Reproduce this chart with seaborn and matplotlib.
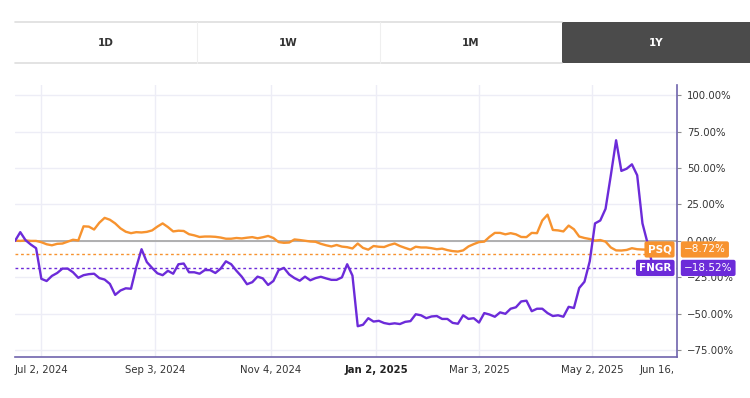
import numpy as np
import pandas as pd
import matplotlib
matplotlib.use("Agg")
import matplotlib.pyplot as plt
import seaborn as sns
from matplotlib.patches import Rectangle
from matplotlib.lines import Line2D
from matplotlib.transforms import Bbox, TransformedBbox

# percent change since start, one value every 2 trading days (from 2024-06-17)
psq = [0.2, 0.0, 0.3, 0.0, 0.0, -0.9, -2.3, -3.0, -2.0, -1.8,
       -0.5, 0.8, 0.3, 10.0, 9.8, 7.8, 12.5, 15.8, 14.5, 12.0,
       8.6, 6.3, 5.3, 6.0, 5.8, 6.2, 7.2, 9.8, 12.0, 9.5,
       6.5, 7.0, 6.8, 4.6, 3.8, 2.7, 3.0, 3.0, 2.8, 2.3,
       1.5, 1.5, 2.0, 1.7, 2.2, 2.6, 1.8, 2.5, 3.4, 2.0,
       -0.8, -1.3, -1.1, 1.0, 0.6, 0.1, -0.4, -0.6, -2.0, -3.0,
       -3.8, -2.8, -3.9, -4.3, -5.2, -1.8, -4.8, -6.0, -3.5, -4.0,
       -4.2, -2.8, -1.8, -3.5, -4.8, -6.0, -4.0, -4.5, -4.5, -5.0,
       -5.7, -5.3, -6.3, -7.0, -7.3, -6.5, -3.8, -2.2, -0.8, -0.5,
       2.8, 5.5, 5.5, 4.5, 5.3, 4.5, 2.7, 2.6, 5.5, 5.3,
       14.0, 18.0, 7.5, 7.2, 6.5, 10.5, 8.0, 3.0, 2.0, 1.3,
       0.2, 0.6, -0.5, -4.5, -6.5, -6.6, -6.2, -5.0, -5.7, -5.9,
       -6.0, -8.72]
fngr = [0.0, 6.0, 0.5, -2.5, -5.0, -26.0, -27.5, -24.0, -22.0, -19.0,
        -19.0, -21.5, -25.3, -23.5, -22.8, -22.5, -25.5, -26.5, -29.5, -37.0,
        -34.0, -32.5, -32.8, -18.0, -5.7, -14.5, -18.5, -22.2, -23.5, -20.5,
        -22.5, -16.0, -15.5, -21.5, -21.5, -22.5, -20.0, -20.0, -22.0, -19.0,
        -14.0, -16.0, -20.5, -24.5, -29.7, -28.3, -24.5, -25.7, -30.2, -27.5,
        -20.0, -18.5, -23.0, -25.5, -27.3, -24.5, -27.0, -25.5, -24.6, -25.7,
        -26.7, -26.7, -25.0, -16.0, -23.8, -58.5, -57.5, -53.0, -55.3, -54.8,
        -56.3, -57.0, -56.5, -57.0, -55.5, -55.0, -50.3, -51.0, -53.0, -51.8,
        -51.5, -53.5, -53.5, -56.2, -56.8, -51.0, -53.5, -53.0, -56.0, -49.5,
        -50.5, -52.0, -49.0, -50.0, -46.5, -45.5, -41.5, -41.0, -48.2, -46.5,
        -46.5, -49.5, -51.5, -51.0, -52.0, -45.2, -46.0, -32.3, -28.0, -14.0,
        12.0, 14.0, 22.0, 45.0, 69.0, 48.0, 49.5, 52.5, 45.0, 12.0,
        -2.0, -18.52]

symbols = ["PSQ", "FNGR"]
colors = {"PSQ": "#f7932f", "FNGR": "#6c2bd9"}

holidays = ["2024-06-19", "2024-07-04", "2024-09-02", "2024-11-28", "2024-12-25",
            "2025-01-01", "2025-01-09", "2025-01-20", "2025-02-17", "2025-04-18",
            "2025-05-26"]
tick_dates = ["2024-07-02", "2024-09-03", "2024-11-04", "2025-01-02",
              "2025-03-03", "2025-05-02", "2025-06-16"]
tick_labels = ["Jul 2, 2024", "Sep 3, 2024", "Nov 4, 2024", "Jan 2, 2025",
               "Mar 3, 2025", "May 2, 2025", "Jun 16, 2025"]
y_ticks = [-75, -50, -25, 0, 25, 50, 75, 100]
buttons = ["1D", "1W", "1M", "1Y"]

sns.set_theme(style="white")
plt.rcParams["font.family"] = ["DejaVu Sans"]

days = pd.bdate_range("2024-06-17", "2025-06-30", freq="C", holidays=holidays)
tick_pos = [days.get_loc(pd.Timestamp(d)) for d in tick_dates]

df = pd.DataFrame({"day": np.arange(len(psq)) * 2, "PSQ": psq, "FNGR": fngr})
long = df.melt("day", var_name="symbol", value_name="pct")

fig = plt.figure(figsize=(7.5, 3.98), dpi=100)
W, H = 750, 398
ax = fig.add_axes([15 / W, 1 - 357 / H, 662 / W, 272 / H])

# period buttons
edges = [15, 197, 380, 562, 750]
for i, b in enumerate(buttons):
    active = b == "1Y"
    x0 = edges[i]
    fig.add_artist(Rectangle((x0 / W, 1 - 63 / H), (edges[i + 1] - x0) / W, 41 / H,
                             transform=fig.transFigure,
                             facecolor="#4b4b4b" if active else "white",
                             edgecolor="none"))
    fig.text((x0 + edges[i + 1]) / 2 / W, 1 - 43 / H, b, ha="center", va="center",
             fontsize=7.5, fontweight="bold",
             color="white" if active else "#333333")
for yy in (22, 63):
    fig.add_artist(Line2D([15 / W, 562 / W], [1 - yy / H] * 2,
                          transform=fig.transFigure, color="#dedede", lw=1.2))
for xx in (197, 380):
    fig.add_artist(Line2D([xx / W] * 2, [1 - 63 / H, 1 - 22 / H],
                          transform=fig.transFigure, color="#efefef", lw=0.8))

# grid
for v in y_ticks:
    ax.axhline(v, color="#ededf6", lw=1, zorder=0)
ax.vlines(tick_pos[:-1], -100, 120, color="#ededf6", lw=1, zorder=0)
ax.axhline(0, color="#aaaaaa", lw=1.3, zorder=1)

sns.lineplot(data=long, x="day", y="pct", hue="symbol", hue_order=symbols,
             palette=colors, lw=1.7, legend=False, ax=ax, zorder=2)

last = {"PSQ": psq[-1], "FNGR": fngr[-1]}
shift = {"PSQ": 3.0, "FNGR": 0.0}
for s in symbols:
    ax.axhline(last[s], color=colors[s], lw=1, ls=(0, (2, 2)), zorder=1.5)
    ax.annotate(s, xy=(1, last[s]), xycoords=("axes fraction", "data"),
                xytext=(-4, shift[s]), textcoords="offset points",
                ha="right", va="center", fontsize=7.5, fontweight="bold",
                color="white", zorder=6, annotation_clip=False,
                bbox=dict(boxstyle="round,pad=0.3,rounding_size=0.2",
                          fc=colors[s], ec="none"))
    ax.annotate(f"{last[s]:.2f}%".replace("-", "\u2212"), xy=(1, last[s]),
                xycoords=("axes fraction", "data"),
                xytext=(5, shift[s]), textcoords="offset points",
                ha="left", va="center", fontsize=7.5,
                color="white", zorder=6, annotation_clip=False,
                bbox=dict(boxstyle="round,pad=0.3,rounding_size=0.2",
                          fc=colors[s], ec="none"))

ax.set_xlim(0, 251.1)
ax.set_ylim(-79.6, 106.9)
ax.set_xlabel("")
ax.set_ylabel("")

ax.yaxis.tick_right()
ax.set_yticks(y_ticks)
ax.set_yticklabels([f"{v:.2f}%".replace("-", "\u2212") for v in y_ticks])
ax.tick_params(axis="y", right=True, length=3, width=0.8, color="#8f8f8f",
               pad=4, labelsize=7.3, labelcolor="#333333")

ax.set_xticks(tick_pos)
ax.set_xticklabels(tick_labels)
ax.tick_params(axis="x", bottom=False, length=0, pad=6, labelsize=7.3,
               labelcolor="#333333")
xl = ax.get_xticklabels()
xl[3].set_fontweight("bold")
xl[3].set_color("#222222")
xl[-1].set_clip_on(True)
xl[-1].set_clip_box(TransformedBbox(Bbox([[0, 0], [677 / W, 1]]), fig.transFigure))

for side in ("top", "left"):
    ax.spines[side].set_visible(False)
for side in ("bottom", "right"):
    ax.spines[side].set_color("#6f63ad")
    ax.spines[side].set_linewidth(1.2)

fig.savefig("out.png", dpi=100)
